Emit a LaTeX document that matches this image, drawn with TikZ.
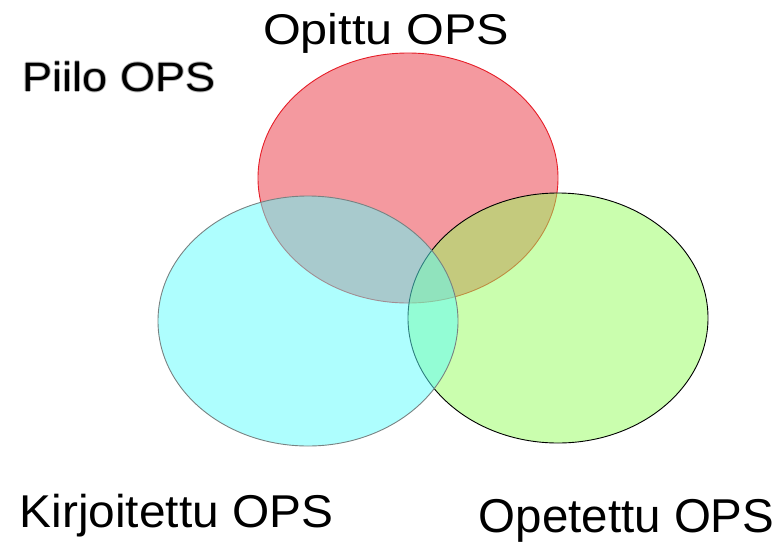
\documentclass[tikz,border=0pt]{standalone}
\usepackage{fontspec}
\setmainfont{Liberation Sans}
\begin{document}
\begin{tikzpicture}[x=1pt,y=-1pt,
  set/.style={line width=0.9pt, fill opacity=0.5},
  lbl/.style={inner sep=0pt, anchor=base, text=black},
  glow/.style={inner sep=0pt, anchor=base, text=gray!55}]
\useasboundingbox (0,0) rectangle (782,542);
\definecolor{redbase}{RGB}{233,51,63}
\definecolor{greenbase}{RGB}{149,253,93}
\definecolor{cyanbase}{RGB}{93,253,253}
\definecolor{redline}{RGB}{230,30,40}
\definecolor{cyanline}{RGB}{120,130,130}
\path[set, fill=redbase, draw=redline] (408,178) ellipse [x radius=150, y radius=125];
\path[set, fill=greenbase, draw=black] (558,318) ellipse [x radius=150, y radius=125];
\path[set, fill=cyanbase, draw=cyanline] (308,321) ellipse [x radius=150, y radius=125];
\node[lbl, xscale=1.13] (opittu) at (386,44) {\fontsize{43}{43}\selectfont Opittu OPS};
\foreach \dx/\dy in {-1/0,1/0,0/-1,0/1}{
  \node[glow, xscale=1.1] at (119+\dx,91+\dy) {\fontsize{41}{41}\selectfont Piilo OPS};
}
\node[lbl, xscale=1.1] (piilo) at (119,91) {\fontsize{41}{41}\selectfont Piilo OPS};
\node[lbl, xscale=1.04] (kirj) at (176.5,527) {\fontsize{46}{46}\selectfont Kirjoitettu OPS};
\node[lbl] (opet) at (626.5,532) {\fontsize{47.5}{47.5}\selectfont Opetettu OPS};
\end{tikzpicture}
\end{document}
